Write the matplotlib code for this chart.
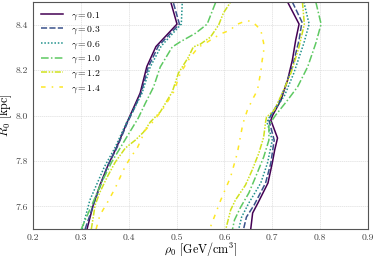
import numpy as np
import matplotlib
matplotlib.use('Agg')
import matplotlib.pyplot as plt

plt.rcParams['font.family'] = 'serif'
plt.rcParams['font.serif'] = ['cmr10']
plt.rcParams['mathtext.fontset'] = 'cm'
plt.rcParams['axes.formatter.use_mathtext'] = True

# contornos rho0 - R0 para cada gamma (rama izquierda y rama derecha)
rho_izq_01 = [0.313, 0.326, 0.340, 0.357, 0.375, 0.396, 0.408, 0.424, 0.438, 0.457, 0.501, 0.488]
R_izq_01 = [7.500, 7.606, 7.694, 7.782, 7.861, 7.967, 8.024, 8.099, 8.216, 8.304, 8.403, 8.500]
rho_der_01 = [0.732, 0.756, 0.749, 0.742, 0.732, 0.718, 0.701, 0.697, 0.711, 0.705, 0.700, 0.691, 0.670, 0.659, 0.655]
R_der_01 = [8.500, 8.403, 8.333, 8.245, 8.156, 8.068, 8.002, 7.980, 7.901, 7.848, 7.791, 7.703, 7.615, 7.571, 7.500]

rho_izq_03 = [0.309, 0.330, 0.355, 0.376, 0.397, 0.410, 0.426, 0.441, 0.462, 0.506, 0.493]
R_izq_03 = [7.500, 7.628, 7.773, 7.861, 7.967, 8.024, 8.099, 8.214, 8.306, 8.403, 8.500]
rho_der_03 = [0.742, 0.762, 0.756, 0.743, 0.728, 0.714, 0.697, 0.693, 0.704, 0.697, 0.686, 0.662, 0.646, 0.640]
R_der_03 = [8.500, 8.412, 8.333, 8.222, 8.134, 8.060, 8.002, 7.980, 7.892, 7.791, 7.703, 7.606, 7.553, 7.500]

rho_izq_06 = [0.303, 0.319, 0.349, 0.372, 0.395, 0.410, 0.428, 0.445, 0.468, 0.510, 0.512]
R_izq_06 = [7.500, 7.628, 7.773, 7.861, 7.967, 8.024, 8.099, 8.214, 8.306, 8.403, 8.500]
rho_der_06 = [0.766, 0.777, 0.766, 0.745, 0.726, 0.705, 0.693, 0.689, 0.700, 0.690, 0.676, 0.651, 0.636, 0.630]
R_der_06 = [8.500, 8.403, 8.319, 8.187, 8.090, 8.024, 7.989, 7.971, 7.892, 7.791, 7.703, 7.615, 7.553, 7.500]

rho_izq_10 = [0.301, 0.323, 0.344, 0.365, 0.391, 0.420, 0.435, 0.452, 0.466, 0.491, 0.508, 0.540, 0.564, 0.582]
R_izq_10 = [7.500, 7.606, 7.708, 7.797, 7.888, 7.989, 8.055, 8.126, 8.214, 8.302, 8.325, 8.363, 8.403, 8.500]
rho_der_10 = [0.791, 0.802, 0.791, 0.774, 0.753, 0.732, 0.707, 0.693, 0.693, 0.682, 0.665, 0.651, 0.634, 0.621, 0.617]
R_der_10 = [8.500, 8.403, 8.319, 8.215, 8.127, 8.068, 8.002, 7.958, 7.892, 7.817, 7.729, 7.659, 7.597, 7.540, 7.500]

rho_izq_12 = [0.322, 0.330, 0.340, 0.355, 0.372, 0.393, 0.414, 0.431, 0.445, 0.466, 0.491, 0.504,
              0.525, 0.535, 0.550, 0.571, 0.588, 0.598, 0.613]
R_izq_12 = [7.500, 7.606, 7.663, 7.729, 7.795, 7.857, 7.892, 7.927, 7.971, 8.016, 8.104, 8.187,
            8.258, 8.302, 8.315, 8.346, 8.399, 8.452, 8.500]
rho_der_12 = [0.763, 0.767, 0.756, 0.739, 0.721, 0.704, 0.688, 0.686, 0.682, 0.672, 0.658, 0.644, 0.623, 0.613, 0.603]
R_der_12 = [8.500, 8.403, 8.303, 8.187, 8.099, 8.024, 7.993, 7.971, 7.905, 7.835, 7.760, 7.694, 7.628, 7.584, 7.500]

# gamma = 1.4 es un contorno que se cierra dentro del grafico
rho_14 = [0.332, 0.340, 0.355, 0.372, 0.389, 0.403, 0.418, 0.435, 0.450, 0.470, 0.494, 0.508, 0.529,
          0.546, 0.561, 0.577, 0.596, 0.613, 0.623, 0.640, 0.649, 0.661, 0.676, 0.682, 0.682, 0.679,
          0.676, 0.669, 0.658, 0.648, 0.641, 0.638, 0.627, 0.613, 0.592, 0.571, 0.569]
R_14 = [7.500, 7.562, 7.615, 7.681, 7.760, 7.813, 7.857, 7.936, 7.971, 8.024, 8.104, 8.187, 8.258,
        8.302, 8.319, 8.341, 8.363, 8.377, 8.399, 8.413, 8.418, 8.409, 8.377, 8.319, 8.280, 8.245,
        8.193, 8.112, 8.068, 8.024, 7.980, 7.958, 7.835, 7.730, 7.626, 7.510, 7.500]

gammas = ['0.1', '0.3', '0.6', '1.0', '1.2', '1.4']
colores = ['#440154', '#3b528b', '#21918c', '#5ec962', '#cfe11d', '#fde725']
estilos = ['-', (0, (4, 1.5)), (0, (1, 1.2)), (0, (5, 1.5, 1, 1.5)),
           (0, (4, 1, 1, 1, 1, 1)), (0, (3, 4, 1, 4))]

ramas = [
    (rho_izq_01, R_izq_01, rho_der_01, R_der_01),
    (rho_izq_03, R_izq_03, rho_der_03, R_der_03),
    (rho_izq_06, R_izq_06, rho_der_06, R_der_06),
    (rho_izq_10, R_izq_10, rho_der_10, R_der_10),
    (rho_izq_12, R_izq_12, rho_der_12, R_der_12),
]

fig = plt.figure(figsize=(3.74, 2.56), dpi=100)
ax = fig.add_axes([0.088, 0.105, 0.896, 0.887])

for i, (xi, yi, xd, yd) in enumerate(ramas):
    x = list(xi) + [np.nan] + list(xd)
    y = list(yi) + [np.nan] + list(yd)
    ax.plot(x, y, color=colores[i], linestyle=estilos[i], lw=1.1,
            label=r'$\gamma = %s$' % gammas[i])
ax.plot(rho_14, R_14, color=colores[5], linestyle=estilos[5], lw=1.1,
        label=r'$\gamma = %s$' % gammas[5])

ax.set_xlim(0.2, 0.9)
ax.set_ylim(7.5, 8.5)
ax.set_xticks(np.arange(0.2, 0.91, 0.1))
ax.set_yticks([7.6, 7.8, 8.0, 8.2, 8.4])
ax.xaxis.set_major_formatter(matplotlib.ticker.FormatStrFormatter('%.1f'))
ax.yaxis.set_major_formatter(matplotlib.ticker.FormatStrFormatter('%.1f'))
ax.tick_params(labelsize=7, length=0, pad=3.5, colors='#444444')
ax.grid(True, color='#dddddd', linestyle=(0, (2, 1)), lw=0.5)
for s in ax.spines.values():
    s.set_color('#555555')
    s.set_linewidth(0.8)

ax.set_xlabel(r'$\rho_0$ [GeV/cm$^3$]', fontsize=8.7)
ax.set_ylabel(r'$R_0$ [kpc]', fontsize=8.7)
ax.xaxis.set_label_coords(0.5, -0.05)
ax.yaxis.set_label_coords(-0.057, 0.5)
ax.legend(loc='upper left', frameon=False, fontsize=7, handlelength=2.3,
          labelspacing=0.3, borderaxespad=0.4)

plt.savefig('out.png', dpi=100)
